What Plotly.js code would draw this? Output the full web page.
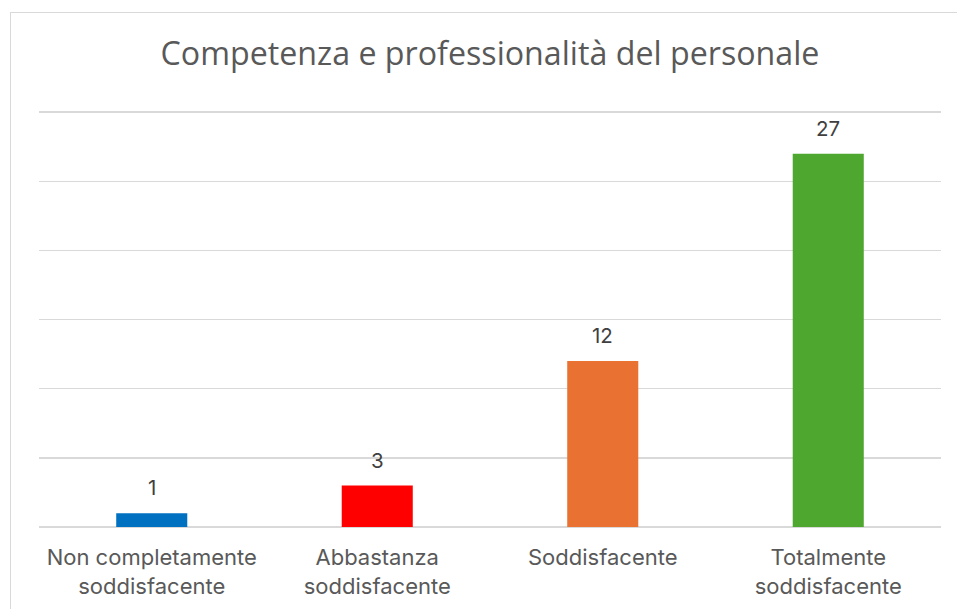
<!DOCTYPE html>
<html>
<head>
<meta charset="utf-8">
<script src="https://cdn.plot.ly/plotly-3.0.1.min.js"></script>
<style>
html,body{margin:0;padding:0;background:#fff;overflow:hidden;}
#frame{position:absolute;left:10px;top:12px;width:960px;height:620px;border:1.5px solid #D9D9D9;box-sizing:border-box;}
#chart{position:absolute;left:0;top:0;width:957px;height:609px;}
</style>
</head>
<body>
<div id="frame"></div>
<div id="chart"></div>
<script>
const categories = ["Non completamente<br>soddisfacente", "Abbastanza<br>soddisfacente", "Soddisfacente", "Totalmente<br>soddisfacente"];
const values = [1, 3, 12, 27];
const colors = ["#0070C0", "#FF0000", "#E97132", "#4EA72E"];
const titleText = "Competenza e professionalità del personale";

const trace = {
  type: "bar",
  x: categories,
  y: values,
  marker: {color: colors},
  hoverinfo: "none"
};

const annotations = categories.map((c, i) => ({
  x: c, y: values[i], xref: "x", yref: "y",
  text: String(values[i]), showarrow: false,
  yanchor: "bottom", yshift: 11,
  font: {family: "Inter, Roboto, sans-serif", size: 20.5, color: "#404040"}
}));

const layout = {
  width: 957, height: 609,
  margin: {l: 39, r: 16, t: 108, b: 82},
  paper_bgcolor: "rgba(0,0,0,0)",
  plot_bgcolor: "rgba(0,0,0,0)",
  bargap: 0.685,
  showlegend: false,
  title: {
    text: titleText,
    x: 0.5, xref: "paper", xanchor: "center",
    y: 64, yref: "container", yanchor: "middle",
    font: {family: "Open Sans, Noto Sans, sans-serif", size: 32.2, color: "#595959"}
  },
  xaxis: {
    type: "category",
    showgrid: false, zeroline: false, showline: false,
    ticks: "outside", ticklen: 11, tickcolor: "rgba(0,0,0,0)",
    tickfont: {family: "Inter, Roboto, sans-serif", size: 22, color: "#595959"}
  },
  yaxis: {
    range: [0, 30.3], dtick: 5,
    showticklabels: false, showgrid: true, gridcolor: "#D9D9D9", gridwidth: 1.5,
    zeroline: true, zerolinecolor: "#D9D9D9", zerolinewidth: 1.5,
    showline: false, fixedrange: true
  },
  annotations: annotations
};

Plotly.newPlot("chart", [trace], layout, {displayModeBar: false, staticPlot: true});
</script>
</body>
</html>
